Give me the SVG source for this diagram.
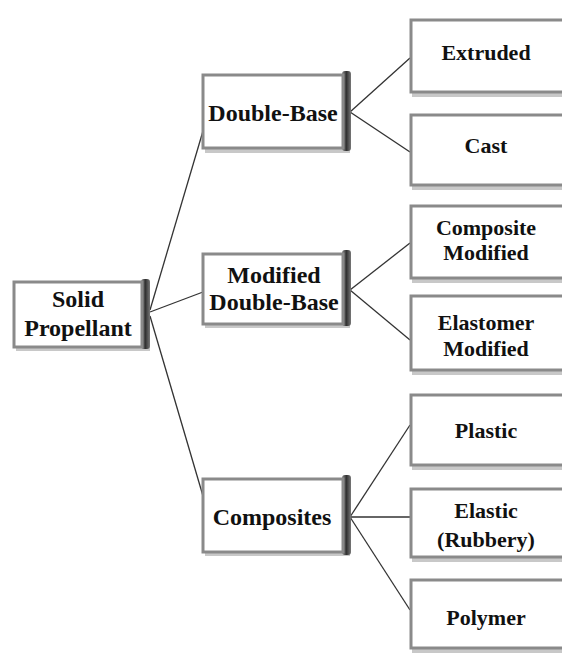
<svg xmlns="http://www.w3.org/2000/svg" width="562" height="655" viewBox="0 0 562 655">
<defs>
<linearGradient id="side" x1="0" y1="0" x2="1" y2="0">
<stop offset="0" stop-color="#888"/><stop offset="0.5" stop-color="#333"/><stop offset="1" stop-color="#777"/>
</linearGradient>
<style>
.box{fill:#fff;stroke:#8a8a8a;stroke-width:3}
.sh{fill:#c8c8c8}
.side{fill:url(#side)}
.t{font-family:"Liberation Serif","Times New Roman",serif;font-weight:bold;font-size:22px;fill:#111;text-anchor:middle}
.L{font-size:24px}
.c{stroke:#333;stroke-width:1.3;fill:none}
</style>
</defs>
<rect width="562" height="655" fill="#fff"/>
<g id="connectors">
<line class="c" x1="150" y1="310" x2="203" y2="131"/>
<line class="c" x1="150" y1="312" x2="203" y2="292"/>
<line class="c" x1="150" y1="316" x2="203" y2="496"/>
<line class="c" x1="350" y1="112" x2="410" y2="58"/>
<line class="c" x1="350" y1="112" x2="410" y2="152"/>
<line class="c" x1="350" y1="290" x2="410" y2="243"/>
<line class="c" x1="350" y1="290" x2="410" y2="340"/>
<line class="c" x1="350" y1="517" x2="410" y2="425"/>
<line class="c" x1="350" y1="517" x2="410" y2="517"/>
<line class="c" x1="350" y1="517" x2="410" y2="610"/>
</g>
<g id="solid">
<rect class="sh" x="16" y="346" width="134" height="5"/>
<rect class="side" x="141" y="279" width="9" height="70" rx="3"/>
<rect class="box" x="14" y="282" width="128" height="65"/>
<text class="t L" x="78" y="307">Solid</text>
<text class="t L" x="78" y="336">Propellant</text>
</g>
<g id="double-base">
<rect class="sh" x="205" y="148" width="145" height="5"/>
<rect class="side" x="342" y="71" width="9" height="80" rx="3"/>
<rect class="box" x="203" y="75" width="140" height="73"/>
<text class="t L" x="273" y="121">Double-Base</text>
</g>
<g id="modified-double-base">
<rect class="sh" x="205" y="323" width="145" height="5"/>
<rect class="side" x="342" y="250" width="9" height="76" rx="3"/>
<rect class="box" x="203" y="254" width="140" height="70"/>
<text class="t L" x="274" y="283">Modified</text>
<text class="t L" x="274" y="310">Double-Base</text>
</g>
<g id="composites">
<rect class="sh" x="205" y="551" width="145" height="5"/>
<rect class="side" x="342" y="475" width="9" height="80" rx="3"/>
<rect class="box" x="203" y="479" width="140" height="73"/>
<text class="t L" x="272" y="525">Composites</text>
</g>
<g id="extruded">
<rect class="sh" x="412" y="92" width="150" height="5"/>
<rect class="box" x="411" y="20" width="155" height="72"/>
<text class="t" x="486" y="60">Extruded</text>
</g>
<g id="cast">
<rect class="sh" x="412" y="185" width="150" height="5"/>
<rect class="box" x="411" y="115" width="155" height="70"/>
<text class="t" x="486" y="153">Cast</text>
</g>
<g id="composite-modified">
<rect class="sh" x="412" y="278" width="150" height="5"/>
<rect class="box" x="411" y="206" width="155" height="72"/>
<text class="t" x="486" y="235">Composite</text>
<text class="t" x="486" y="260">Modified</text>
</g>
<g id="elastomer-modified">
<rect class="sh" x="412" y="370" width="150" height="5"/>
<rect class="box" x="411" y="296" width="155" height="74"/>
<text class="t" x="486" y="330">Elastomer</text>
<text class="t" x="486" y="356">Modified</text>
</g>
<g id="plastic">
<rect class="sh" x="412" y="465" width="150" height="5"/>
<rect class="box" x="411" y="395" width="155" height="70"/>
<text class="t" x="486" y="438">Plastic</text>
</g>
<g id="elastic">
<rect class="sh" x="412" y="557" width="150" height="5"/>
<rect class="box" x="411" y="489" width="155" height="68"/>
<text class="t" x="486" y="518">Elastic</text>
<text class="t" x="486" y="547">(Rubbery)</text>
</g>
<g id="polymer">
<rect class="sh" x="412" y="648" width="150" height="5"/>
<rect class="box" x="411" y="580" width="155" height="68"/>
<text class="t" x="486" y="625">Polymer</text>
</g>
</svg>
